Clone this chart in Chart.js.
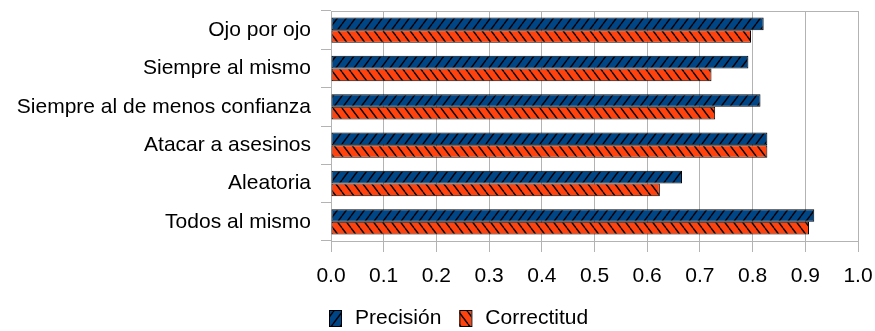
<!DOCTYPE html>
<html>
<head>
<meta charset="utf-8">
<script src="https://cdn.jsdelivr.net/npm/chart.js@4.4.1/dist/chart.umd.min.js"></script>
<style>
  html, body { margin: 0; padding: 0; background: #fff; }
  #wrap { width: 875px; height: 331px; }
</style>
</head>
<body>
<div id="wrap"><canvas id="chart" width="875" height="331"></canvas></div>
<script>
const categories = [
    "Ojo por ojo",
    "Siempre al mismo",
    "Siempre al de menos confianza",
    "Atacar a asesinos",
    "Aleatoria",
    "Todos al mismo",
];
const seriesNames = ["Precisión", "Correctitud"];
const precision = [0.821, 0.792, 0.815, 0.828, 0.666, 0.917];
const correctitud = [0.797, 0.722, 0.729, 0.828, 0.624, 0.907];
const xMin = 0;
const xMax = 1;
const xStep = 0.1;

const BLUE = "#004586";
const ORANGE = "#ff420e";
const GRID = "#b3b3b3";
const FONT = "'Liberation Sans', Arial, sans-serif";

// hatch pattern: dir 1 = "/", dir -1 = "\"
function hatch(color, dir) {
    const w = 9, h = 12;
    const c = document.createElement("canvas");
    c.width = w; c.height = h;
    const g = c.getContext("2d");
    g.fillStyle = color;
    g.fillRect(0, 0, w, h);
    g.strokeStyle = "#000";
    g.lineWidth = 1.4;
    g.beginPath();
    for (const dx of [-w, 0, w]) {
        if (dir > 0) { g.moveTo(dx, h); g.lineTo(dx + w, 0); }
        else { g.moveTo(dx, 0); g.lineTo(dx + w, h); }
    }
    g.stroke();
    return g.createPattern(c, "repeat");
}

const ctx = document.getElementById("chart").getContext("2d");
const fills = [hatch(BLUE, 1), hatch(ORANGE, -1)];

// frame around the plot area
const frame = {
    id: "frame",
    beforeDatasetsDraw(chart) {
        const a = chart.chartArea;
        const g = chart.ctx;
        g.save();
        g.strokeStyle = GRID;
        g.lineWidth = 1;
        g.strokeRect(Math.round(a.left) + 0.5, Math.round(a.top) + 0.5,
            Math.round(a.right - a.left), Math.round(a.bottom - a.top));
        g.restore();
    },
};

// legend under the axis, left-aligned at the plot
const legendBox = {
    id: "legendBox",
    afterDraw(chart) {
        const g = chart.ctx;
        g.save();
        g.font = "21px " + FONT;
        g.textBaseline = "middle";
        let x = 329;
        const y = 318;
        chart.data.datasets.forEach((ds) => {
            g.fillStyle = ds.backgroundColor;
            g.fillRect(x, y - 8, 12, 16);
            g.strokeStyle = "#000";
            g.lineWidth = 1;
            g.strokeRect(x + 0.5, y - 8 + 0.5, 12, 16);
            g.fillStyle = "#000";
            g.fillText(ds.label, x + 26, y);
            x += 26 + g.measureText(ds.label).width + 18;
        });
        g.restore();
    },
};

new Chart(ctx, {
    type: "bar",
    data: {
        labels: categories,
        datasets: [
            { label: seriesNames[0], data: precision, backgroundColor: fills[0] },
            { label: seriesNames[1], data: correctitud, backgroundColor: fills[1] },
        ],
    },
    options: {
        indexAxis: "y",
        responsive: false,
        animation: false,
        devicePixelRatio: 1,
        categoryPercentage: 0.66,
        barPercentage: 1,
        datasets: {
            bar: { borderColor: "#000", borderWidth: 1, borderSkipped: false },
        },
        layout: { padding: { top: 11, right: 17, bottom: 45, left: 0 } },
        plugins: {
            legend: { display: false },
            tooltip: { enabled: false },
        },
        scales: {
            x: {
                type: "linear",
                position: "bottom",
                min: xMin,
                max: xMax,
                afterFit: (s) => { s.height = 45; s.paddingLeft = 0; s.paddingRight = 0; },
                ticks: {
                    stepSize: xStep,
                    callback: (v) => Number(v).toFixed(1),
                    color: "#000",
                    font: { family: FONT, size: 21 },
                    padding: 12,
                },
                grid: { color: GRID, lineWidth: 1, tickLength: 11 },
                border: { color: GRID },
            },
            y: {
                type: "category",
                afterFit: (s) => { s.width = 331; s.paddingTop = 0; s.paddingBottom = 0; },
                ticks: {
                    color: "#000",
                    font: { family: FONT, size: 21 },
                    padding: 10,
                },
                grid: { offset: true, drawOnChartArea: false, color: GRID, tickLength: 10 },
                border: { color: GRID },
            },
        },
    },
    plugins: [frame, legendBox],
});
</script>
</body>
</html>
